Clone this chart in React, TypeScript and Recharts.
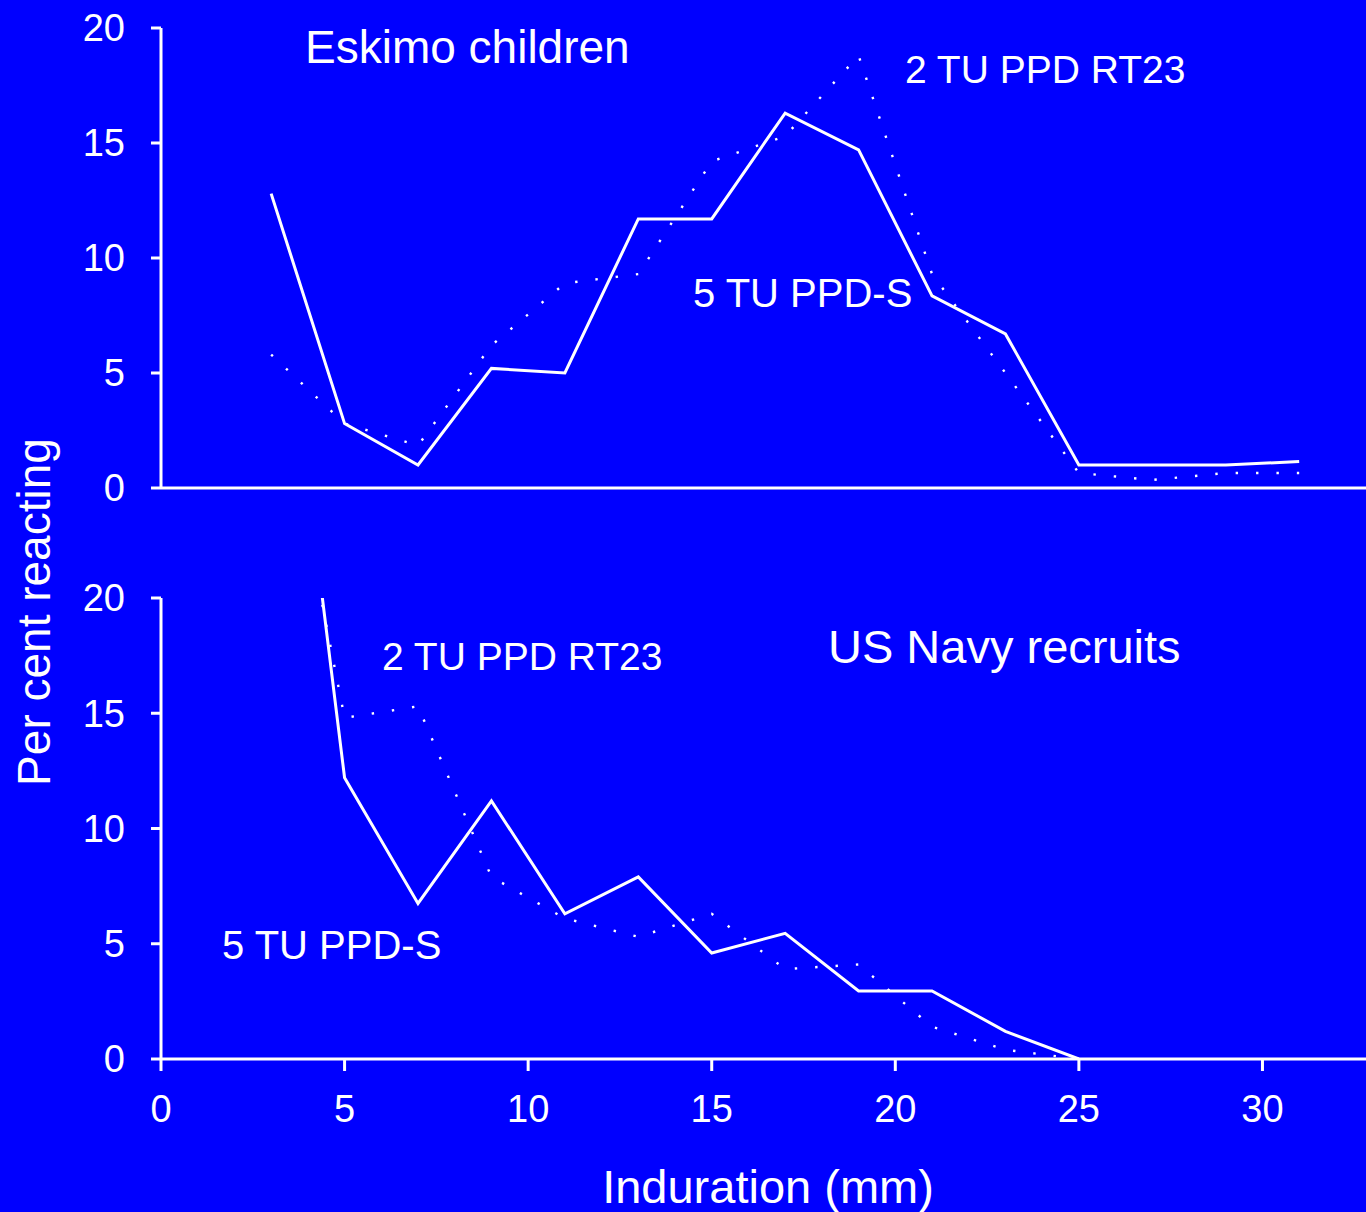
import React from 'react';
import { LineChart, Line, XAxis, YAxis } from 'recharts';

// Induration (mm), class mid-points
const xValues = [3, 5, 7, 9, 11, 13, 15, 17, 19, 21, 23, 25, 27, 29, 31];
// Eskimo children – per cent reacting
const eskimoPPDS = [12.8, 2.8, 1.0, 5.2, 5.0, 11.7, 11.7, 16.3, 14.7, 8.35, 6.7, 1.0, 1.0, 1.0, 1.15];
const eskimoRT23 = [5.8, 2.8, 1.85, 6.2, 8.9, 9.3, 14.2, 15.3, 18.8, 9.3, 5.0, 0.65, 0.35, 0.65, 0.65];

// US Navy recruits – per cent reacting
const navyX = [3, 5, 7, 9, 11, 13, 15, 17, 19, 21, 23, 25];
const navyPPDS = [38, 12.2, 6.75, 11.2, 6.3, 7.9, 4.6, 5.45, 2.95, 2.95, 1.2, 0];
const navyRT23 = [31, 14.8, 15.3, 7.9, 6.1, 5.3, 6.3, 3.9, 4.1, 1.4, 0.4, 0];

const xTicks = [0, 5, 10, 15, 20, 25, 30];
const yTicks = [0, 5, 10, 15, 20];

const eskimoData = xValues.map((x, i) => ({ x, ppds: eskimoPPDS[i], rt23: eskimoRT23[i] }));
const navyData = navyX.map((x, i) => ({ x, ppds: navyPPDS[i], rt23: navyRT23[i] }));

const FONT = '"Liberation Sans", Arial, sans-serif';
const BG = '#0000FF';
const FG = '#FFFFFF';
const X_MAX = 32.82;

type PanelProps = {
  data: { x: number; ppds: number; rt23: number }[];
  top: number;
  height: number;
  marginTop: number;
  xAxisHeight: number;
  showXLabels: boolean;
};

function Panel({ data, top, height, marginTop, xAxisHeight, showXLabels }: PanelProps) {
  const axisStyle = { stroke: FG, strokeWidth: 3 };
  return (
    <div style={{ position: 'absolute', left: 0, top, width: 1366, height }}>
      <LineChart
        width={1366}
        height={height}
        data={data}
        margin={{ top: marginTop, right: 0, bottom: 0, left: 0 }}
      >
        <XAxis
          dataKey="x"
          type="number"
          domain={[0, X_MAX]}
          allowDataOverflow
          ticks={xTicks}
          interval={0}
          height={xAxisHeight}
          axisLine={axisStyle}
          tickLine={axisStyle}
          tickSize={12}
          tickMargin={24}
          tick={showXLabels ? { fill: FG, fontSize: 38, fontFamily: FONT } : false}
        />
        <YAxis
          type="number"
          domain={[0, 20]}
          allowDataOverflow
          ticks={yTicks}
          interval={0}
          width={161}
          axisLine={axisStyle}
          tickLine={axisStyle}
          tickSize={10}
          tickMargin={26}
          tick={{ fill: FG, fontSize: 38, fontFamily: FONT }}
        />
        <Line
          type="linear"
          dataKey="rt23"
          stroke={FG}
          strokeWidth={2.4}
          strokeDasharray="2.4 18"
          dot={false}
          activeDot={false}
          isAnimationActive={false}
        />
        <Line
          type="linear"
          dataKey="ppds"
          stroke={FG}
          strokeWidth={3}
          dot={false}
          activeDot={false}
          isAnimationActive={false}
        />
      </LineChart>
    </div>
  );
}

export default function App() {
  const t = { fill: FG, fontFamily: FONT } as const;
  return (
    <div
      style={{
        position: 'absolute',
        left: 0,
        top: 0,
        width: 1366,
        height: 1212,
        background: BG,
        overflow: 'hidden',
      }}
    >
      <Panel data={eskimoData} top={0} height={520} marginTop={28} xAxisHeight={32} showXLabels={false} />
      <Panel data={navyData} top={560} height={652} marginTop={38} xAxisHeight={153} showXLabels={true} />
      <svg
        width={1366}
        height={1212}
        style={{ position: 'absolute', left: 0, top: 0, pointerEvents: 'none' }}
      >
        <text {...t} x={305} y={63} fontSize={46}>Eskimo children</text>
        <text {...t} x={905} y={83} fontSize={39}>2 TU PPD RT23</text>
        <text {...t} x={693} y={307} fontSize={40}>5 TU PPD-S</text>
        <text {...t} x={382} y={670} fontSize={39}>2 TU PPD RT23</text>
        <text {...t} x={828} y={663} fontSize={47}>US Navy recruits</text>
        <text {...t} x={222} y={959} fontSize={40}>5 TU PPD-S</text>
        <text {...t} x={768} y={1203} fontSize={47} textAnchor="middle">Induration (mm)</text>
        <text {...t} x={50} y={612} fontSize={46} textAnchor="middle" transform="rotate(-90 50 612)">
          Per cent reacting
        </text>
      </svg>
    </div>
  );
}
